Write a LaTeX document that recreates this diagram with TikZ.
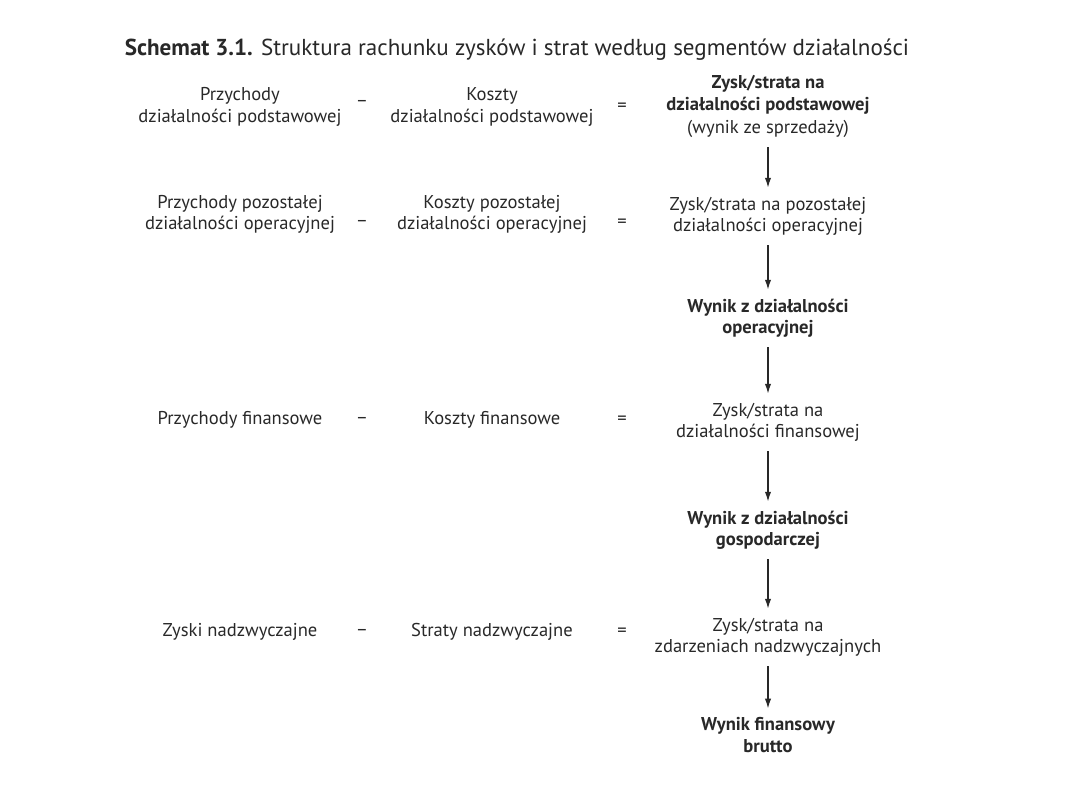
\documentclass[tikz,border=0pt]{standalone}
\usepackage{fontspec}
\setmainfont{PT Sans}
\usepackage{xcolor}
\definecolor{inkgray}{RGB}{40,40,40}
\usetikzlibrary{arrows.meta,positioning}

\begin{document}
\begin{tikzpicture}[x=0.025cm,y=-0.025cm,
  txt/.style={align=center,text=inkgray,font=\fontsize{13.2}{15}\selectfont},
  bld/.style={txt,font=\fontsize{13.2}{15}\selectfont\bfseries},
  sign/.style={text=inkgray,font=\fontsize{13.2}{15}\selectfont},
  arr/.style={-{Latex[length=7pt,width=4.5pt]},line width=0.9pt,inkgray,
    shorten <=3.5pt,shorten >=3pt}]
  \useasboundingbox (0,0) rectangle (1080,810);
  % title
  \node[anchor=base west,text=inkgray,font=\fontsize{16.4}{18}\selectfont] (title) at (120,55)
    {\textbf{Schemat 3.1.} Struktura rachunku zysków i strat według segmentów działalności};
  % row 1
  \node[txt,font=\fontsize{13.2}{15.8}\selectfont] (p1) at (240,107) {Przychody\\działalności podstawowej};
  \node[sign] (m1) at (362,103) {–};
  \node[txt,font=\fontsize{13.2}{15.8}\selectfont] (k1) at (492,107) {Koszty\\działalności podstawowej};
  \node[sign] (e1) at (622,107) {=};
  \node[txt,font=\fontsize{13.2}{16}\selectfont] (z1) at (768,106)
    {\textbf{Zysk/strata na}\\\textbf{działalności podstawowej}\\(wynik ze sprzedaży)};
  % row 2
  \node[txt] (p2) at (240,214) {Przychody pozostałej\\działalności operacyjnej};
  \node[sign] (m2) at (362,223) {–};
  \node[txt] (k2) at (492,214) {Koszty pozostałej\\działalności operacyjnej};
  \node[sign] (e2) at (622,223) {=};
  \node[txt] (z2) at (768,216) {Zysk/strata na pozostałej\\działalności operacyjnej};
  \node[bld] (w1) at (768,318) {Wynik z działalności\\operacyjnej};
  % row 3
  \node[txt] (p3) at (240,420) {Przychody finansowe};
  \node[sign] (m3) at (362,420) {–};
  \node[txt] (k3) at (492,420) {Koszty finansowe};
  \node[sign] (e3) at (622,420) {=};
  \node[txt] (z3) at (768,422) {Zysk/strata na\\działalności finansowej};
  \node[bld] (w2) at (768,530) {Wynik z działalności\\gospodarczej};
  % row 4
  \node[txt] (p4) at (240,632) {Zyski nadzwyczajne};
  \node[sign] (m4) at (362,632) {–};
  \node[txt] (k4) at (492,632) {Straty nadzwyczajne};
  \node[sign] (e4) at (622,632) {=};
  \node[txt] (z4) at (768,637) {Zysk/strata na\\zdarzeniach nadzwyczajnych};
  \node[bld] (w3) at (768,735) {Wynik finansowy\\brutto};
  % arrows
  \draw[arr] (z1) -- (z2);
  \draw[arr] (z2) -- (w1);
  \draw[arr] (w1) -- (z3);
  \draw[arr] (z3) -- (w2);
  \draw[arr] (w2) -- (z4);
  \draw[arr] (z4) -- (w3);
\end{tikzpicture}
\end{document}
